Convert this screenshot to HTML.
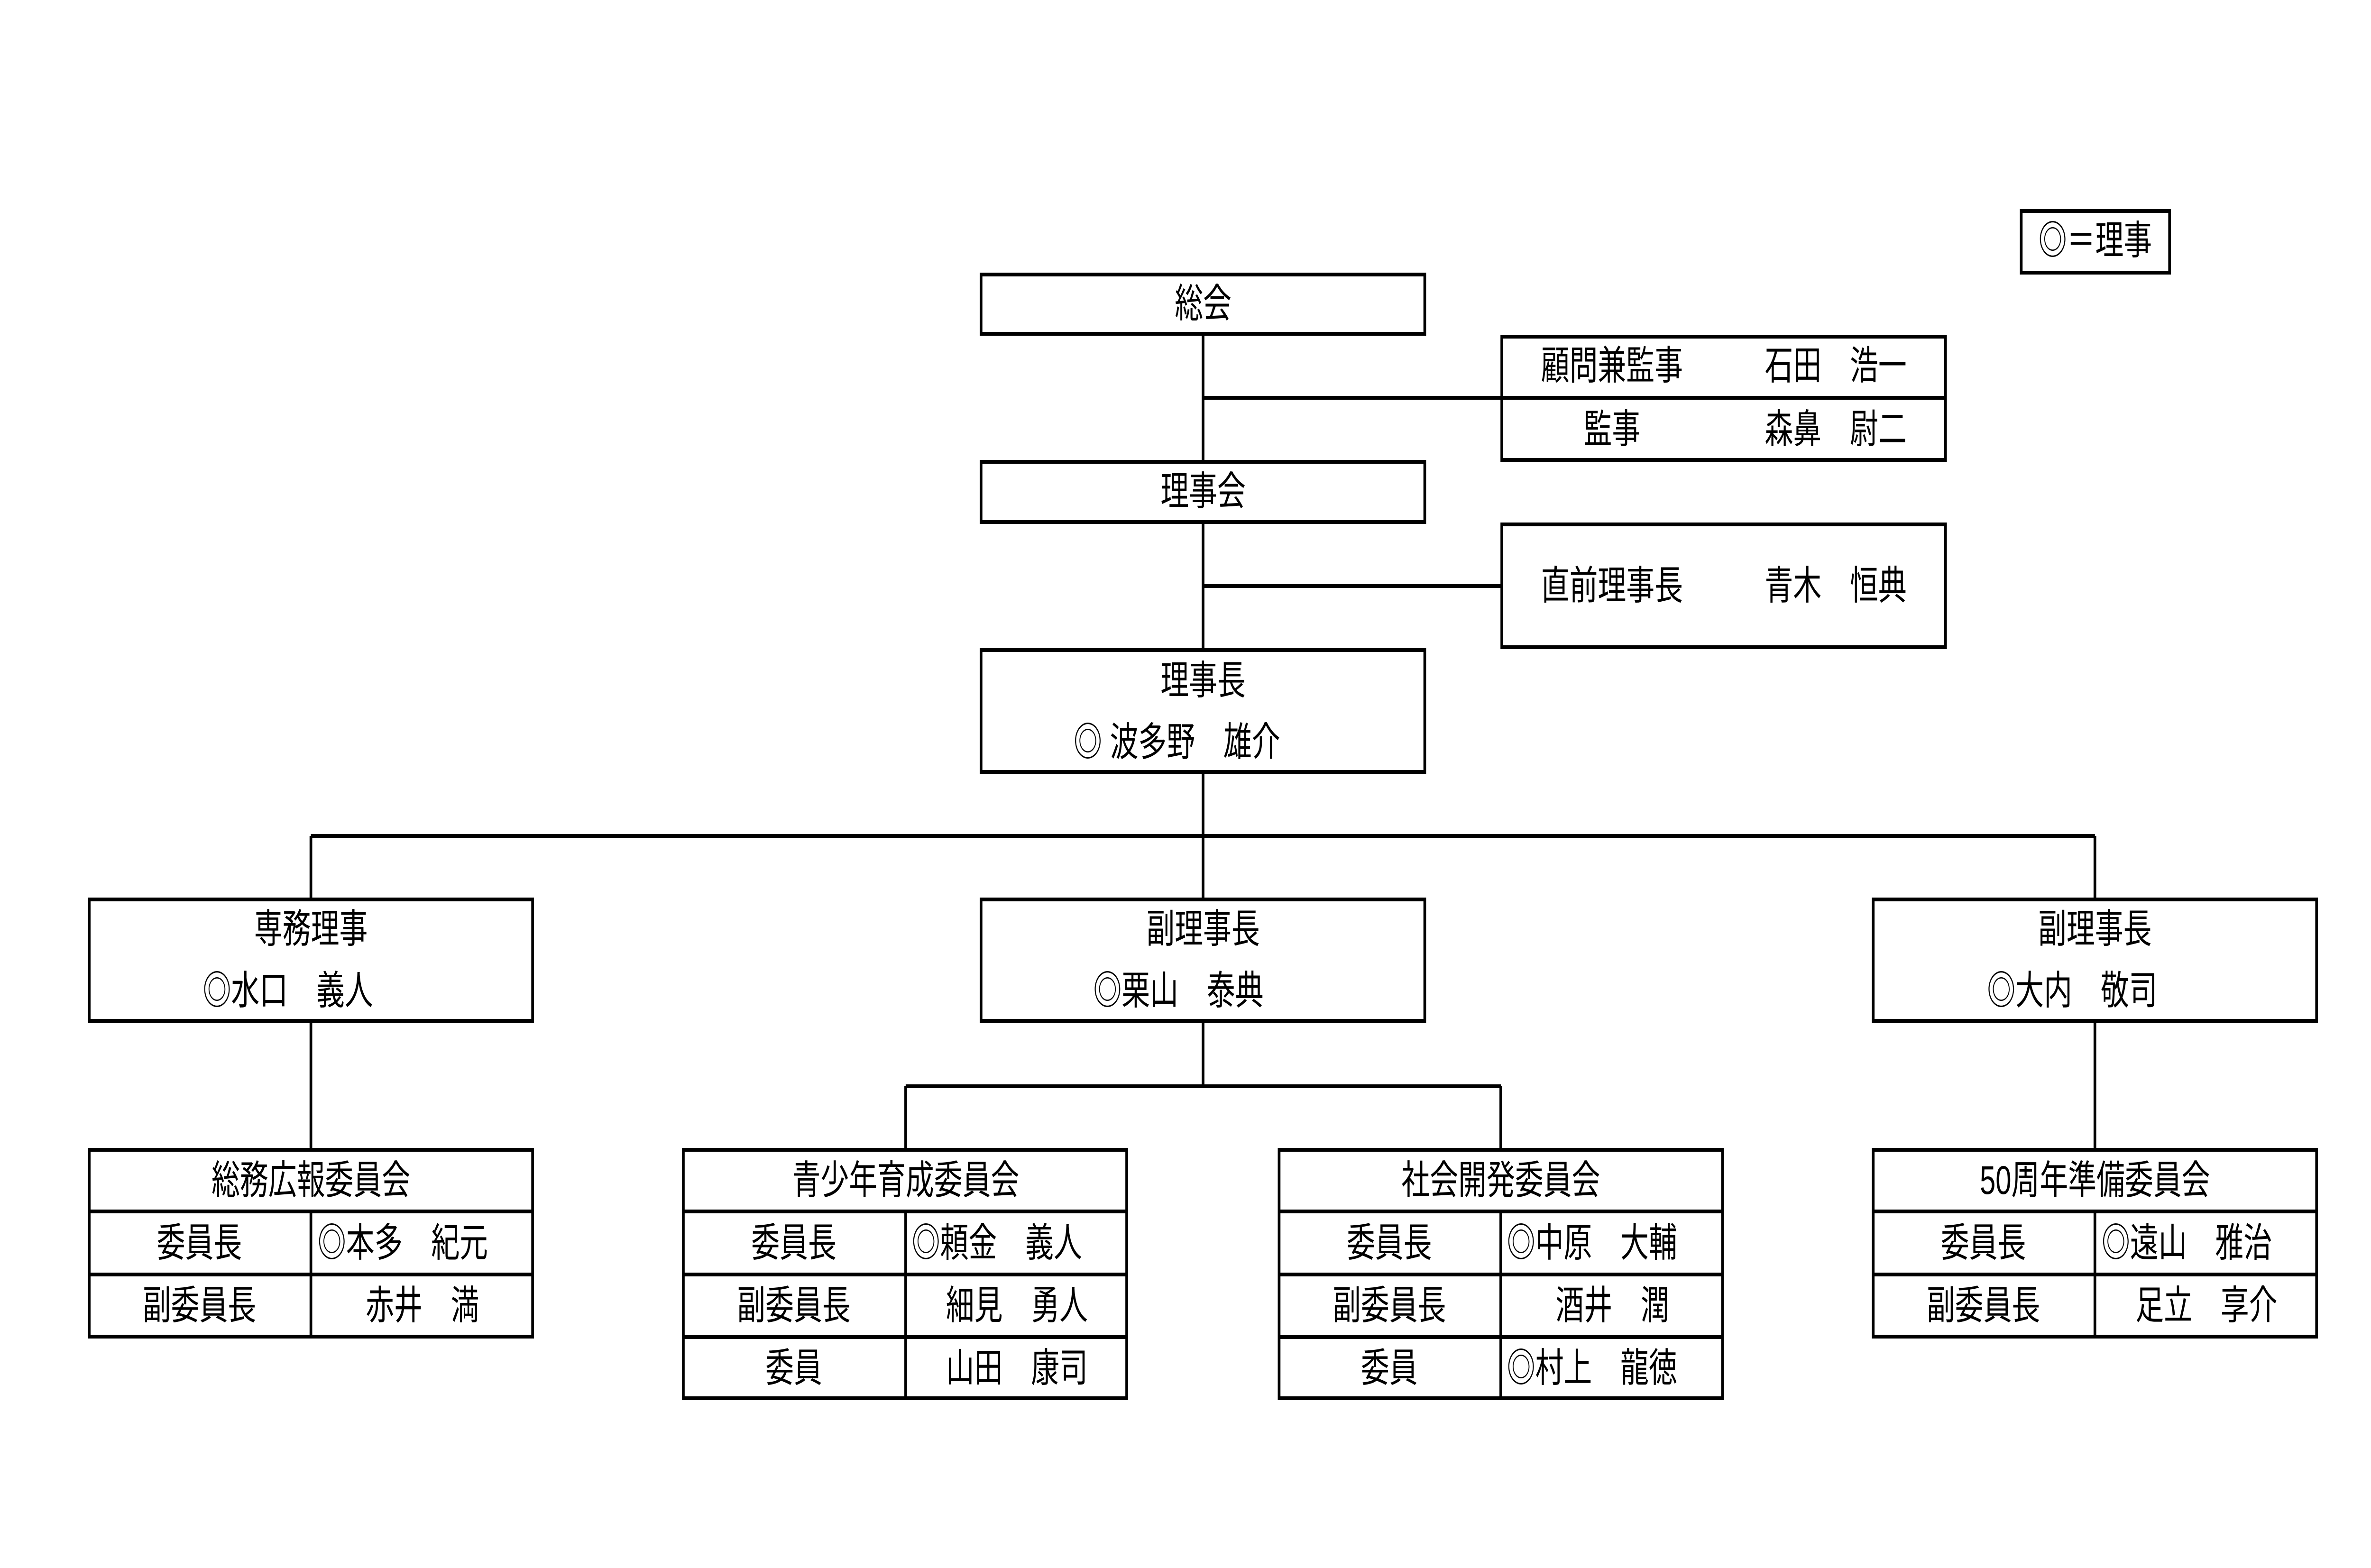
<!DOCTYPE html>
<html><head><meta charset="utf-8">
<style>
html,body{margin:0;padding:0;background:#fff;width:100%;height:100%;overflow:hidden;}
svg{display:block;width:100vw;height:100vh;}
text{font-family:"Liberation Sans","Noto Sans CJK JP",sans-serif;font-size:84px;fill:#000;dominant-baseline:central;}
</style></head>
<body>
<svg viewBox="0 0 7016 3307" preserveAspectRatio="none" xmlns="http://www.w3.org/2000/svg">
<rect width="7016" height="3307" fill="#fff"/>
<g fill="none" stroke="#000" stroke-width="8">
<rect x="5981" y="445" width="439" height="130"/>
<rect x="2903" y="579" width="1313" height="125"/>
<rect x="4444" y="710" width="1313" height="260"/>
<line x1="4444" y1="839" x2="5757" y2="839"/>
<rect x="2903" y="974" width="1313" height="127"/>
<rect x="4444" y="1106" width="1313" height="259"/>
<rect x="2903" y="1371" width="1313" height="257"/>
<line x1="3560" y1="704" x2="3560" y2="974"/>
<line x1="3560" y1="839" x2="4444" y2="839"/>
<line x1="3560" y1="1101" x2="3560" y2="1371"/>
<line x1="3560" y1="1236" x2="4444" y2="1236"/>
<line x1="3560" y1="1628" x2="3560" y2="1897"/>
<line x1="920" y1="1763" x2="6199" y2="1763"/>
<line x1="920" y1="1763" x2="920" y2="1897"/>
<line x1="6199" y1="1763" x2="6199" y2="1897"/>
<rect x="264" y="1897" width="1312" height="256"/>
<rect x="2903" y="1897" width="1313" height="256"/>
<rect x="5543" y="1897" width="1312" height="256"/>
<line x1="920" y1="2153" x2="920" y2="2425"/>
<line x1="6199" y1="2153" x2="6199" y2="2425"/>
<line x1="3560" y1="2153" x2="3560" y2="2291"/>
<line x1="2680" y1="2291" x2="4441" y2="2291"/>
<line x1="2680" y1="2291" x2="2680" y2="2425"/>
<line x1="4441" y1="2291" x2="4441" y2="2425"/>
<rect x="264" y="2425" width="1312" height="394"/>
<line x1="264" y1="2555" x2="1576" y2="2555"/>
<line x1="264" y1="2688" x2="1576" y2="2688"/>
<line x1="920" y1="2555" x2="920" y2="2819"/>
<rect x="2022" y="2425" width="1312" height="524"/>
<line x1="2022" y1="2555" x2="3334" y2="2555"/>
<line x1="2022" y1="2688" x2="3334" y2="2688"/>
<line x1="2022" y1="2820" x2="3334" y2="2820"/>
<line x1="2680" y1="2555" x2="2680" y2="2949"/>
<rect x="3785" y="2425" width="1312" height="524"/>
<line x1="3785" y1="2555" x2="5097" y2="2555"/>
<line x1="3785" y1="2688" x2="5097" y2="2688"/>
<line x1="3785" y1="2820" x2="5097" y2="2820"/>
<line x1="4441" y1="2555" x2="4441" y2="2949"/>
<rect x="5543" y="2425" width="1312" height="394"/>
<line x1="5543" y1="2555" x2="6855" y2="2555"/>
<line x1="5543" y1="2688" x2="6855" y2="2688"/>
<line x1="6199" y1="2555" x2="6199" y2="2819"/>
</g>
<g text-anchor="middle">
<text x="6200" y="508">◎＝理事</text>
<text x="3560" y="641">総会</text>
<text x="4770" y="772">顧問兼監事</text>
<text x="5432" y="772">石田　浩一</text>
<text x="4770" y="906">監事</text>
<text x="5432" y="906">森鼻　尉二</text>
<text x="3560" y="1037">理事会</text>
<text x="4770" y="1236">直前理事長</text>
<text x="5432" y="1236">青木　恒典</text>
<text x="3560" y="1436">理事長</text>
<text x="920" y="1960">専務理事</text>
<text x="3560" y="1960">副理事長</text>
<text x="6199" y="1960">副理事長</text>
<text x="920" y="2490">総務広報委員会</text>
<text x="590" y="2622">委員長</text>
<text x="590" y="2754">副委員長</text>
<text x="1250" y="2754">赤井　満</text>
<text x="2680" y="2490">青少年育成委員会</text>
<text x="2349" y="2622">委員長</text>
<text x="2349" y="2754">副委員長</text>
<text x="3009" y="2754">細見　勇人</text>
<text x="2349" y="2886">委員</text>
<text x="3009" y="2886">山田　康司</text>
<text x="4441" y="2490">社会開発委員会</text>
<text x="4111" y="2622">委員長</text>
<text x="4111" y="2754">副委員長</text>
<text x="4771" y="2754">酒井　潤</text>
<text x="4111" y="2886">委員</text>
<text x="6199" y="2490">50周年準備委員会</text>
<text x="5869" y="2622">委員長</text>
<text x="5869" y="2754">副委員長</text>
<text x="6529" y="2754">足立　享介</text>
</g>
<g text-anchor="start">
<text x="3177" y="1566">◎ 波多野　雄介</text>
<text x="600" y="2090">◎水口　義人</text>
<text x="3235" y="2090">◎栗山　泰典</text>
<text x="5880" y="2090">◎大内　敬司</text>
<text x="940" y="2622">◎本多　紀元</text>
<text x="2698" y="2622">◎頼金　義人</text>
<text x="4459" y="2622">◎中原　大輔</text>
<text x="4459" y="2886">◎村上　龍徳</text>
<text x="6219" y="2622">◎遠山　雅治</text>
</g>
</svg>
</body></html>
